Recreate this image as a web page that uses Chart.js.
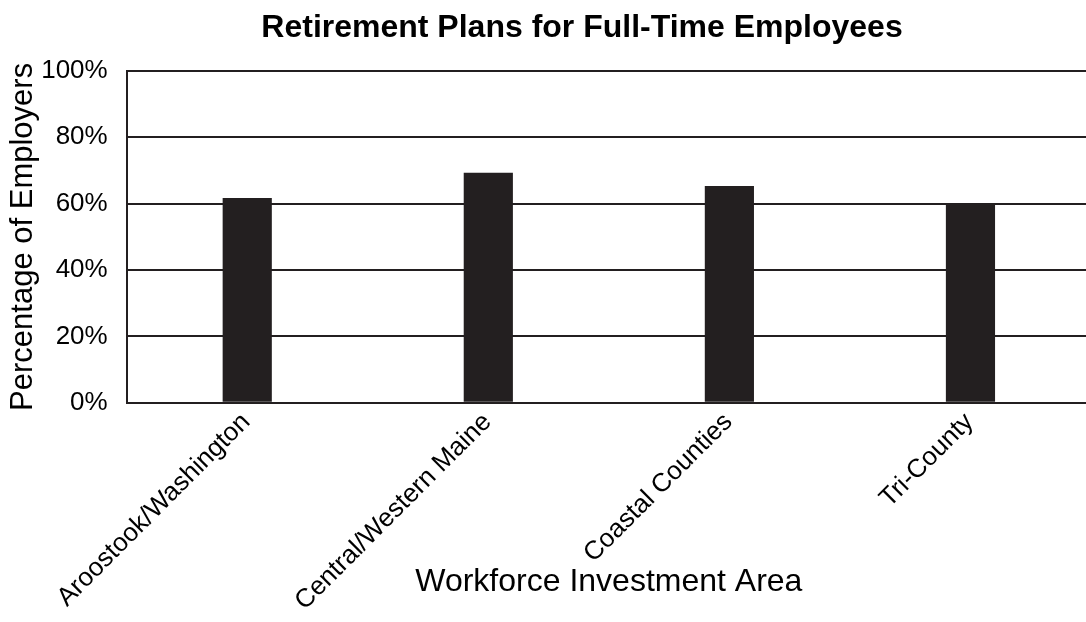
<!DOCTYPE html>
<html>
<head>
<meta charset="utf-8">
<script src="https://cdn.jsdelivr.net/npm/chart.js@4/dist/chart.umd.min.js"></script>
<style>
  html, body { margin: 0; padding: 0; background: #fff; overflow: hidden; width: 1086px; height: 622px; }
  #wrap { width: 1092px; height: 622px; }
</style>
</head>
<body>
<div id="wrap"><canvas id="c" width="1092" height="622"></canvas></div>
<script>
const categories = ['Aroostook/Washington', 'Central/Western Maine', 'Coastal Counties', 'Tri-County'];
const values = [61.7, 69.3, 65.3, 60.0];
const yTickValues = [0, 20, 40, 60, 80, 100];
const chartTitle = 'Retirement Plans for Full-Time Employees';
const xTitle = 'Workforce Investment Area';
const yTitle = 'Percentage of Employers';

const FONT = '"Liberation Sans", Arial, Helvetica, sans-serif';
const INK = '#231f20';

const shiftTitle = {
  id: 'shiftTitle',
  afterLayout(chart) {
    const t = chart.titleBlock;
    if (t) { t.left += 34; t.right += 34; }
  }
};

new Chart(document.getElementById('c'), {
  type: 'bar',
  data: {
    labels: categories,
    datasets: [{
      data: values,
      backgroundColor: INK,
      borderWidth: 0,
      barPercentage: 0.204,
      categoryPercentage: 1
    }]
  },
  options: {
    responsive: false,
    animation: false,
    layout: { padding: { left: 5, right: 1, top: 0, bottom: 0 } },
    plugins: {
      legend: { display: false },
      tooltip: { enabled: false },
      title: {
        display: true,
        text: chartTitle,
        color: '#000',
        font: { family: FONT, size: 32, weight: 'bold' },
        padding: { top: 9, bottom: 23.5 }
      }
    },
    scales: {
      x: {
        afterFit(scale) { scale.paddingLeft = 0; scale.paddingRight = 0; },
        grid: { display: false },
        border: { display: true, color: INK, width: 2 },
        ticks: {
          color: '#000',
          font: { family: FONT, size: 26 },
          minRotation: 45,
          maxRotation: 45,
          padding: -4,
          labelOffset: -1,
          autoSkip: false
        },
        title: {
          display: true,
          text: xTitle,
          color: '#000',
          font: { family: FONT, size: 32 },
          padding: { top: -50, bottom: 21 }
        }
      },
      y: {
        min: 0,
        max: 100,
        afterBuildTicks(scale) { scale.ticks = yTickValues.map(v => ({ value: v })); },
        grid: { color: INK, lineWidth: 2, drawTicks: false },
        border: { display: true, color: INK, width: 2 },
        ticks: {
          color: '#000',
          font: { family: FONT, size: 26 },
          padding: 19,
          callback: v => v + '%'
        },
        title: {
          display: true,
          text: yTitle,
          color: '#000',
          font: { family: FONT, size: 31 },
          padding: { top: 0, bottom: -20 }
        }
      }
    }
  },
  plugins: [shiftTitle]
});
</script>
</body>
</html>
